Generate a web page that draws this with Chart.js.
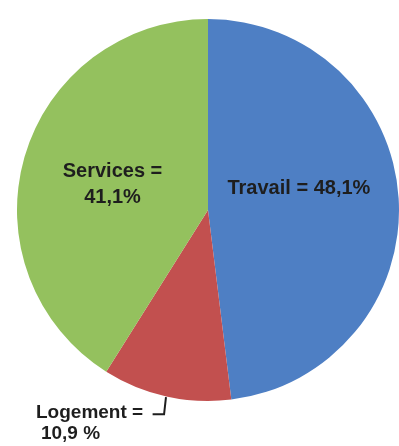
<!DOCTYPE html>
<html>
<head>
<meta charset="utf-8">
<script src="https://cdn.jsdelivr.net/npm/chart.js@4"></script>
<style>
  html, body { margin: 0; padding: 0; background: #fff; }
  #wrap { width: 399px; height: 446px; }
  canvas { filter: blur(0.7px); }
</style>
</head>
<body>
<div id="wrap"><canvas id="pie"></canvas></div>
<script>
// slices clockwise from 12 o'clock
var categories = ['Travail', 'Logement', 'Services'];
var shares = [48.1, 10.9, 41.1];
var sliceColors = ['#4e7fc4', '#c2504f', '#94c15e'];

function pct(i, sep) {
  return shares[i].toFixed(1).replace('.', ',') + (sep || '') + '%';
}

// labels written inside / beside the slices, placed relative to the pie
var sliceLabels = {
  id: 'sliceLabels',
  afterDatasetsDraw: function (chart) {
    var arcs = chart.getDatasetMeta(0).data;
    var cx = arcs[0].x, cy = arcs[0].y, r = arcs[0].outerRadius;
    var ctx = chart.ctx;
    ctx.save();
    ctx.fillStyle = '#1e1e1e';
    ctx.font = 'bold 20px "Liberation Sans", Arial, sans-serif';
    ctx.textAlign = 'center';
    ctx.textBaseline = 'middle';

    ctx.fillText(categories[0] + ' = ' + pct(0), cx + 0.476 * r, cy - 0.115 * r);

    ctx.fillText(categories[2] + ' =', cx - 0.50 * r, cy - 0.20 * r);
    ctx.fillText(pct(2), cx - 0.50 * r, cy - 0.065 * r);

    ctx.font = 'bold 19px "Liberation Sans", Arial, sans-serif';
    ctx.fillText(categories[1] + ' =', cx - 0.62 * r, cy + 1.063 * r);
    ctx.fillText(pct(1, ' '), cx - 0.72 * r, cy + 1.172 * r);

    // leader line from the Logement label up to its slice
    ctx.strokeStyle = '#1e1e1e';
    ctx.lineWidth = 2;
    ctx.beginPath();
    ctx.moveTo(cx - 0.29 * r, cy + 1.07 * r);
    ctx.lineTo(cx - 0.23 * r, cy + 1.07 * r);
    ctx.lineTo(cx - 0.22 * r, cy + 0.98 * r);
    ctx.stroke();
    ctx.restore();
  }
};

new Chart(document.getElementById('pie').getContext('2d'), {
  type: 'pie',
  data: {
    labels: categories,
    datasets: [{
      data: shares,
      backgroundColor: sliceColors,
      borderWidth: 0
    }]
  },
  options: {
    responsive: true,
    maintainAspectRatio: false,
    animation: false,
    layout: { padding: { left: 17, right: 0, top: 19, bottom: 45 } },
    plugins: {
      legend: { display: false },
      tooltip: { enabled: false }
    }
  },
  plugins: [sliceLabels]
});
</script>
</body>
</html>
